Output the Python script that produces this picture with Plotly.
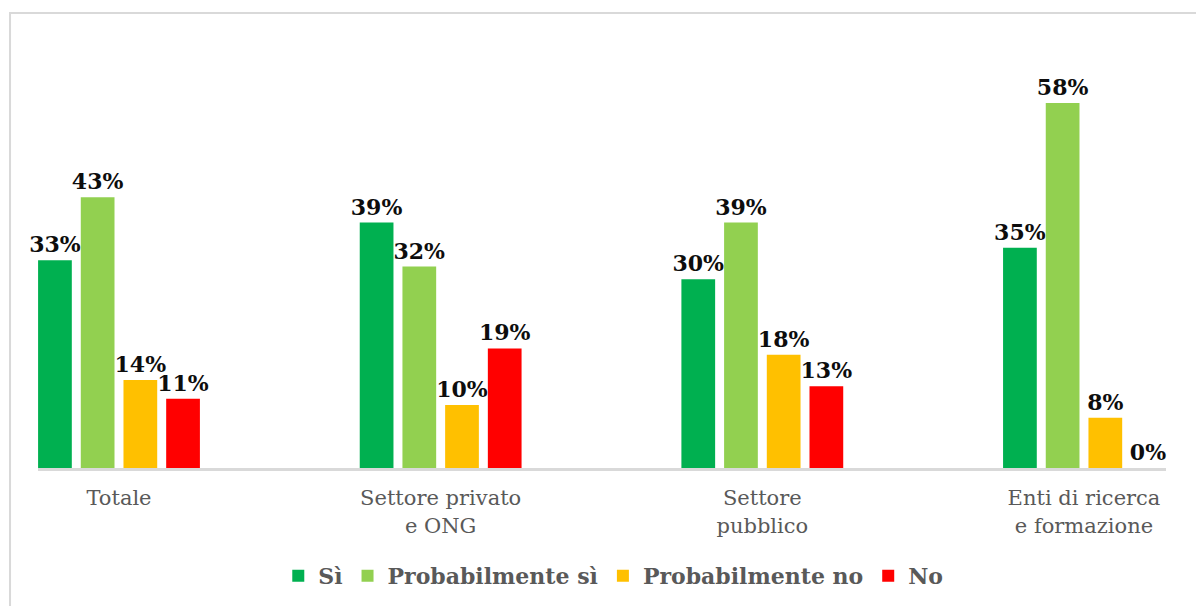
import plotly.graph_objects as go

categories = ["Totale", "Settore privato<br>e ONG", "Settore<br>pubblico", "Enti di ricerca<br>e formazione"]
series_names = ["Sì", "Probabilmente sì", "Probabilmente no", "No"]
si = [33, 39, 30, 35]
prob_si = [43, 32, 39, 58]
prob_no = [14, 10, 18, 8]
no = [11, 19, 13, 0]
colors = ["#00B050", "#92D050", "#FFC000", "#FF0000"]

values = [si, prob_si, prob_no, no]

fig = go.Figure()
for name, vals, col in zip(series_names, values, colors):
    fig.add_trace(go.Bar(
        x=categories, y=vals, name=name,
        marker=dict(color=col, line=dict(width=0)),
        text=[f"{v}%" for v in vals],
        textposition="outside",
        textfont=dict(family="DejaVu Serif", size=22, color="#0d0d0d", weight="bold"),
        constraintext="none",
        cliponaxis=False,
    ))

fig.update_layout(
    width=1196, height=606,
    margin=dict(l=38, r=30, t=40, b=138, autoexpand=False),
    paper_bgcolor="white", plot_bgcolor="white",
    barmode="group", bargap=0.469, bargroupgap=0.21,
    font=dict(family="DejaVu Serif", color="#595959"),
    xaxis=dict(
        range=[-0.2518, 3.255], showgrid=False, zeroline=False,
        showline=True, linecolor="#d9d9d9", linewidth=3,
        ticks="", tickfont=dict(family="DejaVu Serif", size=21, color="#595959"),
        ticklabelstandoff=9,
    ),
    yaxis=dict(range=[0, 68], visible=False, showgrid=False, zeroline=False),
    legend=dict(
        orientation="h", x=0.51, xanchor="center", y=-0.252, yanchor="middle",
        font=dict(family="DejaVu Serif", size=22, color="#595959", weight="bold"),
        itemwidth=30, traceorder="normal",
    ),
    shapes=[dict(type="rect", xref="paper", yref="paper",
                 x0=-0.0248, x1=1.2, y0=-0.6, y1=1.063,
                 line=dict(color="#d9d9d9", width=2), fillcolor="rgba(0,0,0,0)", layer="below")],
)

fig.write_html("out.html")
